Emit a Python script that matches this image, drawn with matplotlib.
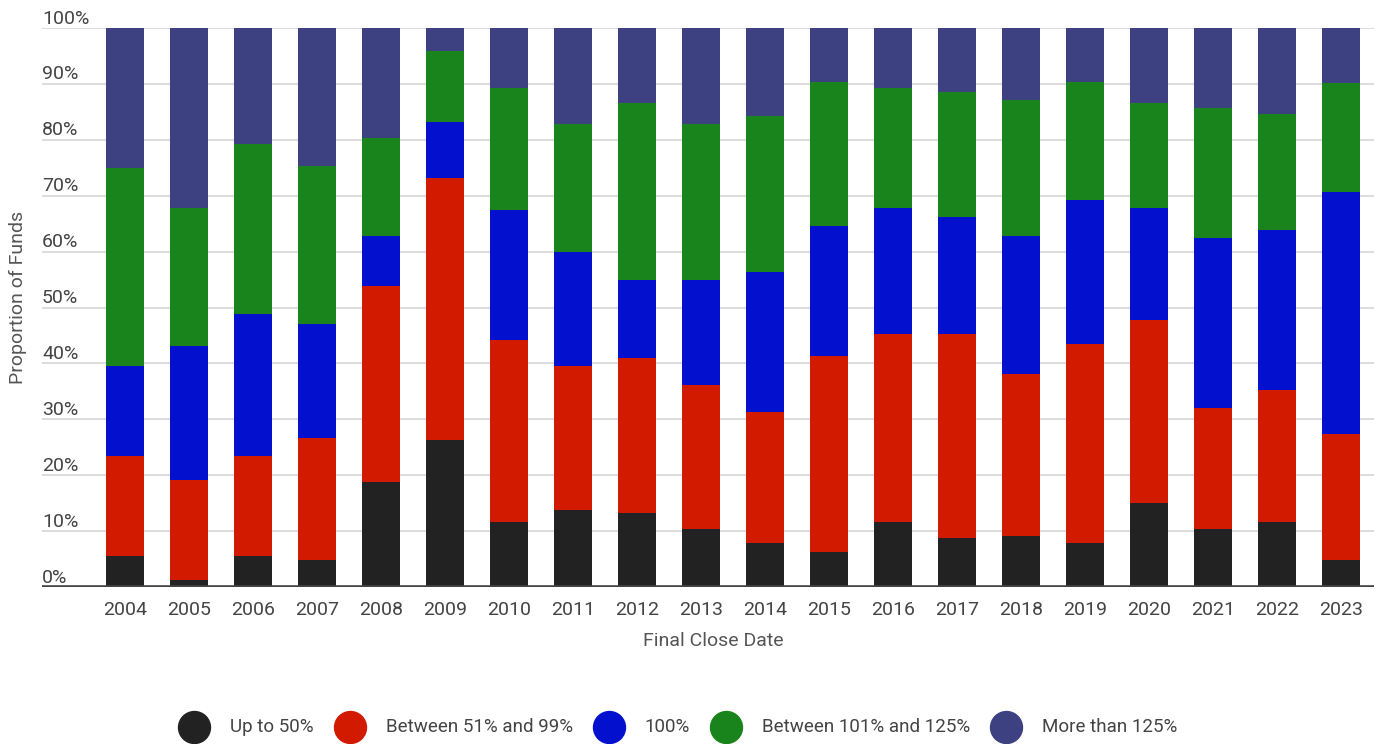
import matplotlib
matplotlib.use("Agg")
import matplotlib.pyplot as plt
from matplotlib.lines import Line2D
import numpy as np

years = [str(y) for y in range(2004, 2024)]
up_to_50 = [5.5, 1.2, 5.5, 4.8, 18.7, 26.3, 11.6, 13.7, 13.3, 10.4, 7.9, 6.2, 11.6, 8.8, 9.2, 7.9, 15.1, 10.4, 11.6, 4.8]
between_51_99 = [17.9, 17.9, 17.9, 21.8, 35.1, 46.9, 32.6, 25.8, 27.6, 25.8, 23.4, 35.1, 33.7, 36.5, 28.9, 35.6, 32.7, 21.6, 23.6, 22.5]
exactly_100 = [16.1, 24.0, 25.4, 20.4, 9.0, 10.0, 23.3, 20.4, 14.0, 18.7, 25.1, 23.3, 22.5, 20.9, 24.7, 25.7, 20.0, 30.5, 28.7, 43.4]
between_101_125 = [35.4, 24.7, 30.5, 28.3, 17.5, 12.6, 21.8, 23.0, 31.6, 28.0, 27.9, 25.8, 21.5, 22.4, 24.4, 21.2, 18.7, 23.2, 20.7, 19.4]
more_than_125 = [25.1, 32.2, 20.7, 24.7, 19.7, 4.2, 10.7, 17.1, 13.5, 17.1, 15.7, 9.6, 10.7, 11.4, 12.8, 9.6, 13.5, 14.3, 15.4, 9.9]

series_names = ["Up to 50%", "Between 51% and 99%", "100%", "Between 101% and 125%", "More than 125%"]
series_values = [up_to_50, between_51_99, exactly_100, between_101_125, more_than_125]
colors = ["#222222", "#D21A00", "#0311CF", "#19841B", "#3E4181"]
y_ticks = [0, 10, 20, 30, 40, 50, 60, 70, 80, 90, 100]
y_tick_labels = [f"{t}%" for t in y_ticks]

plt.rcParams['font.family'] = ['Roboto', 'DejaVu Sans']

W, H = 1382, 744
fig = plt.figure(figsize=(W / 100, H / 100), dpi=100)
ax_left, ax_right, ax_top, ax_bottom = 42, 1374, 28, 587
ax = fig.add_axes([ax_left / W, 1 - ax_bottom / H, (ax_right - ax_left) / W, (ax_bottom - ax_top) / H])

x = np.arange(len(years))
bottom = np.zeros(len(years))
for name, vals, c in zip(series_names, series_values, colors):
    v = np.array(vals)
    ax.bar(x, v, bottom=bottom, width=0.594, color=c, zorder=3, linewidth=0)
    bottom += v

ax.set_xlim(-1.297, 19.52)
ax.set_ylim(0, 100)

for t in y_ticks[1:]:
    ax.axhline(t, color="#d9d9d9", linewidth=1.3, zorder=1)
ax.axhline(0, color="#444444", linewidth=2.6, zorder=4)

ax.set_yticks([])
for t, lab in zip(y_ticks, y_tick_labels):
    ax.text(0.0, t + 0.8, lab, transform=ax.get_yaxis_transform(), ha='left', va='baseline',
            fontsize=14, color="#444444")

ax.set_xticks(x)
ax.set_xticklabels(years, fontsize=14, color="#444444")
ax.tick_params(axis='x', length=0, pad=10)

for s in ax.spines.values():
    s.set_visible(False)

fig.text(713 / W, 1 - 641 / H, "Final Close Date", ha='center', va='center', fontsize=14, color="#555555")
fig.text(18 / W, 1 - 297 / H, "Proportion of Funds", ha='center', va='center', rotation=90,
         fontsize=14, color="#555555")

# manual legend
renderer = fig.canvas.get_renderer()
leg_y = 1 - 727 / H
cx = 194.0
for name, c in zip(series_names, colors):
    fig.add_artist(Line2D([cx / W], [leg_y], marker='o', markersize=23, markerfacecolor=c,
                          markeredgecolor=c, linestyle='none', transform=fig.transFigure))
    t = fig.text((cx + 36) / W, leg_y, name, ha='left', va='center', fontsize=13.5, color="#444444")
    bb = t.get_window_extent(renderer=renderer)
    cx = bb.x1 + 36

fig.savefig("out.png", dpi=100)
